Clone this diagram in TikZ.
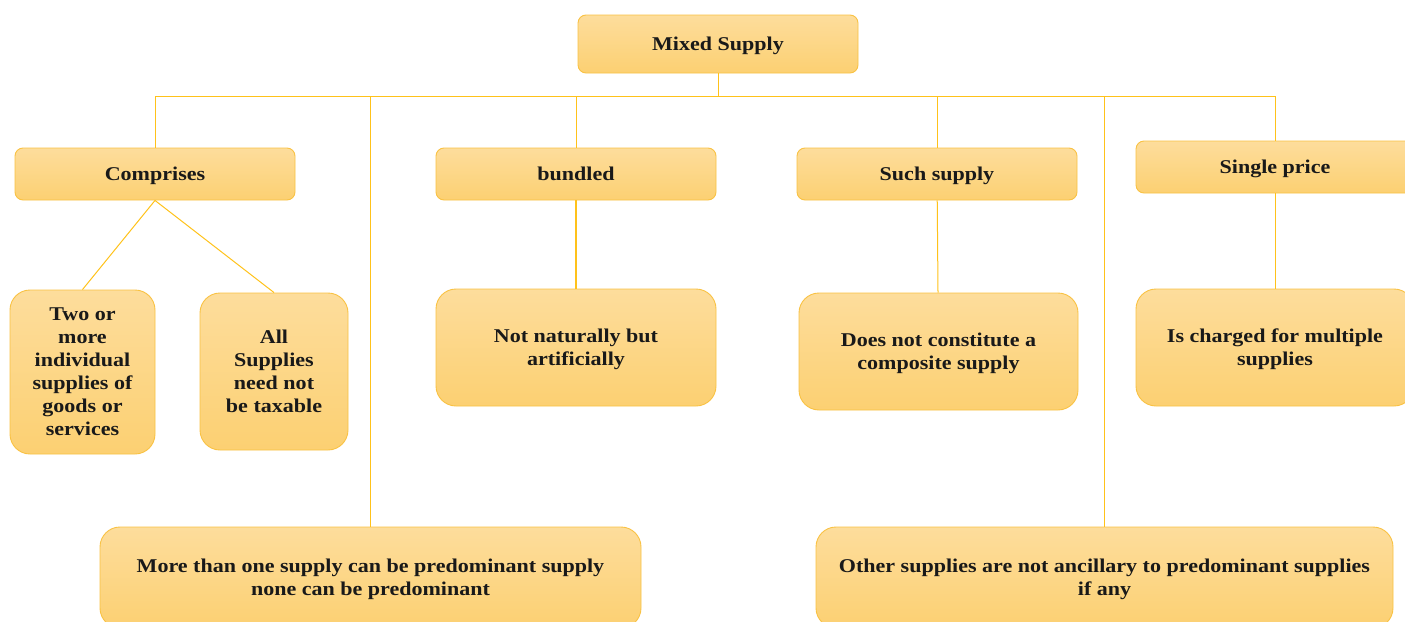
\documentclass[tikz,border=0pt]{standalone}
\usepackage{fontspec}
\setmainfont{Liberation Serif}[FakeStretch=1.13]
\begin{document}
\begin{tikzpicture}[x=1pt,y=-1pt,
  box/.style={rectangle, rounded corners=#1, draw=boxedge, line width=0.9pt,
    top color=boxtop, bottom color=boxbottom, align=center, inner sep=0pt,
    text depth=0pt,
    font=\fontsize{19.5}{23}\selectfont\bfseries, text=black!90},
  box/.default=8pt,
  link/.style={draw=linkcol, line width=1pt},
  thick link/.style={draw=linkcol, line width=1.8pt}]
\definecolor{boxtop}{HTML}{FDDD9C}
\definecolor{boxbottom}{HTML}{FCD072}
\definecolor{boxedge}{HTML}{F9C243}
\definecolor{linkcol}{HTML}{FFC21A}
\useasboundingbox (0,0) rectangle (1405,621);

% top level
\node[box, minimum width=280, minimum height=58] (ms) at (718,44) {Mixed Supply};
\coordinate (j) at (718,96);

% second row
\node[box, minimum width=280, minimum height=52] (comp)   at (155,174) {Comprises};
\node[box, minimum width=280, minimum height=52] (bund)   at (576,174) {bundled};
\node[box, minimum width=280, minimum height=52] (such)   at (937,174) {Such supply};
\node[box, minimum width=278, minimum height=52] (single) at (1275,167) {Single price};

% third row
\node[box=20pt, minimum width=145, minimum height=164] (two) at (82.5,372)
  {Two or\\more\\individual\\supplies of\\goods or\\services};
\node[box=20pt, minimum width=148, minimum height=157] (all) at (274,371.5)
  {All\\Supplies\\need not\\be taxable};
\node[box=20pt, minimum width=280, minimum height=117] (nat) at (576,347.5)
  {Not naturally but\\artificially};
\node[box=20pt, minimum width=279, minimum height=117] (notcomp) at (938.5,351.5)
  {Does not constitute a\\composite supply};
\node[box=20pt, minimum width=278, minimum height=117] (charged) at (1275,347.5)
  {Is charged for multiple\\supplies};

% bottom row
\node[box=20pt, minimum width=541, minimum height=101] (more) at (370.5,577.5)
  {More than one supply can be predominant supply\\none can be predominant};
\node[box=20pt, minimum width=577, minimum height=101] (other) at (1104.5,577.5)
  {Other supplies are not ancillary to predominant supplies\\if any};

% connectors: trunk, bar and drops
\coordinate (jo) at (other |- j);
\draw[link] (ms) -- (j);
\draw[link] (j) -| (comp);
\draw[link] (j) -| (more);
\draw[link] (j) -| (bund);
\draw[link] (j) -| (such);
\draw[link] (j) -- (jo);
\draw[thick link] (jo) -- (other);
\draw[link] (j) -| (single);
\draw[link] (comp.south) -- (two.north);
\draw[link] (comp.south) -- (all.north);
\draw[thick link] (bund) -- (nat);
\draw[link] (such) -- (notcomp);
\draw[link] (single) -- (charged);
\end{tikzpicture}
\end{document}
